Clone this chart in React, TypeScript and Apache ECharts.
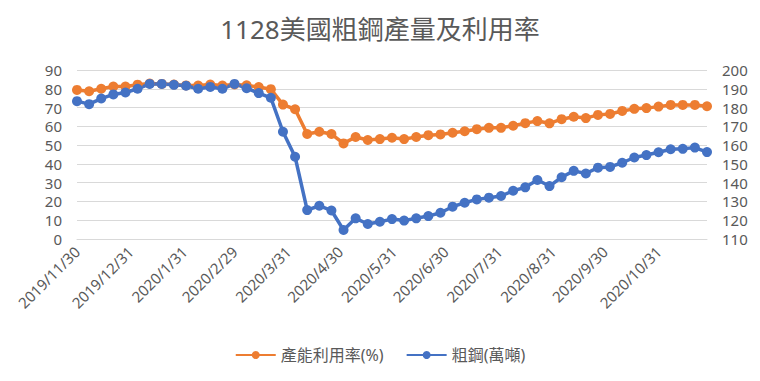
import React, { useEffect, useRef } from "react";
import * as echarts from "echarts";

const TITLE = "1128美國粗鋼產量及利用率";
const SERIES_NAMES = ["產能利用率(%)", "粗鋼(萬噸)"];

const weeks = [
  "2019/11/30", "2019/12/7", "2019/12/14", "2019/12/21", "2019/12/28",
  "2020/1/4", "2020/1/11", "2020/1/18", "2020/1/25",
  "2020/2/1", "2020/2/8", "2020/2/15", "2020/2/22", "2020/2/29",
  "2020/3/7", "2020/3/14", "2020/3/21", "2020/3/28",
  "2020/4/4", "2020/4/11", "2020/4/18", "2020/4/25",
  "2020/5/2", "2020/5/9", "2020/5/16", "2020/5/23", "2020/5/30",
  "2020/6/6", "2020/6/13", "2020/6/20", "2020/6/27",
  "2020/7/4", "2020/7/11", "2020/7/18", "2020/7/25",
  "2020/8/1", "2020/8/8", "2020/8/15", "2020/8/22", "2020/8/29",
  "2020/9/5", "2020/9/12", "2020/9/19", "2020/9/26",
  "2020/10/3", "2020/10/10", "2020/10/17", "2020/10/24", "2020/10/31",
  "2020/11/7", "2020/11/14", "2020/11/21", "2020/11/28",
];

const utilization = [
  79.4, 78.7, 80.0, 81.2, 81.2, 82.2, 82.8, 82.6, 82.3, 81.8,
  81.7, 82.3, 81.7, 82.3, 81.9, 80.9, 79.8, 71.6, 69.1, 55.9,
  57.1, 55.9, 50.9, 54.3, 52.7, 53.2, 53.9, 53.2, 54.3, 55.3,
  55.7, 56.6, 57.4, 58.5, 59.2, 59.2, 60.3, 61.7, 62.8, 61.6,
  63.8, 65.1, 64.4, 66.1, 66.6, 68.2, 69.3, 69.7, 70.5, 71.4,
  71.4, 71.4, 70.7,
];

const crudeSteel = [
  183.4, 181.8, 184.8, 187.0, 188.0, 190.0, 192.6, 192.6, 192.1, 191.6,
  190.0, 191.0, 190.0, 192.6, 190.3, 187.7, 185.2, 167.1, 153.8, 125.4,
  127.7, 125.2, 114.8, 121.0, 118.0, 119.2, 120.6, 119.8, 121.0, 122.2,
  124.0, 127.2, 129.3, 131.1, 132.0, 132.9, 135.7, 137.5, 141.4, 138.2,
  142.9, 146.3, 144.9, 148.0, 148.4, 150.6, 153.4, 154.7, 156.2, 157.8,
  158.0, 158.7, 156.3,
];

const monthTicks = [
  "2019/11/30", "2019/12/31", "2020/1/31", "2020/2/29", "2020/3/31", "2020/4/30",
  "2020/5/31", "2020/6/30", "2020/7/31", "2020/8/31", "2020/9/30", "2020/10/31",
];

const DAY = 86400000;
const EPOCH = Date.UTC(2019, 10, 30);
// x position = days since first week
const toDay = (s: string) => {
  const [y, m, d] = s.split("/").map(Number);
  return Math.round((Date.UTC(y, m - 1, d) - EPOCH) / DAY);
};
const fmt = (v: number) => {
  const d = new Date(EPOCH + Math.round(v) * DAY);
  return `${d.getUTCFullYear()}/${d.getUTCMonth() + 1}/${d.getUTCDate()}`;
};

const FONT = "'Noto Sans', 'Noto Sans CJK TC', sans-serif";
const GRAY = "#595959";

export default function App() {
  const ref = useRef<HTMLDivElement>(null);
  useEffect(() => {
    if (!ref.current) return;
    const chart = echarts.init(ref.current, null, { renderer: "svg" });
    chart.setOption({
      animation: false,
      backgroundColor: "#ffffff",
      textStyle: { fontFamily: FONT },
      title: {
        text: TITLE,
        left: "center",
        top: 11,
        textStyle: { fontFamily: FONT, fontSize: 26, fontWeight: "normal", color: GRAY },
      },
      legend: {
        left: "center",
        top: 342,
        itemWidth: 40,
        itemHeight: 10,
        itemGap: 22,
        textStyle: { fontFamily: FONT, fontSize: 16, color: GRAY },
        data: SERIES_NAMES,
      },
      grid: { left: 77, right: 53, top: 70, bottom: 142, containLabel: false },
      xAxis: {
        type: "value",
        min: toDay(weeks[0]),
        max: toDay(weeks[weeks.length - 1]),
        axisLine: { show: true, onZero: false, lineStyle: { color: "#D9D9D9", width: 1 } },
        axisTick: { show: false },
        splitLine: { show: false },
        axisLabel: {
          customValues: monthTicks.map(toDay),
          formatter: (v: number) => fmt(v),
          rotate: 45,
          margin: 10,
          fontSize: 15,
          color: GRAY,
          fontFamily: FONT,
          hideOverlap: false,
        },
      },
      yAxis: [
        {
          type: "value",
          min: 0,
          max: 90,
          interval: 10,
          axisLine: { show: false },
          axisTick: { show: false },
          splitLine: { lineStyle: { color: "#D9D9D9", width: 1 } },
          axisLabel: { fontSize: 15, lineHeight: 16, color: GRAY, margin: 15, fontFamily: FONT },
        },
        {
          type: "value",
          min: 110,
          max: 200,
          interval: 10,
          axisLine: { show: false },
          axisTick: { show: false },
          splitLine: { show: false },
          axisLabel: { fontSize: 15, lineHeight: 16, color: GRAY, margin: 15, fontFamily: FONT },
        },
      ],
      series: [
        {
          name: SERIES_NAMES[0],
          type: "line",
          yAxisIndex: 0,
          data: weeks.map((w, i) => [toDay(w), utilization[i]]),
          symbol: "circle",
          symbolSize: 10,
          itemStyle: { color: "#ED7D31" },
          lineStyle: { color: "#ED7D31", width: 3.5 },
        },
        {
          name: SERIES_NAMES[1],
          type: "line",
          yAxisIndex: 1,
          data: weeks.map((w, i) => [toDay(w), crudeSteel[i]]),
          symbol: "circle",
          symbolSize: 10,
          itemStyle: { color: "#4472C4" },
          lineStyle: { color: "#4472C4", width: 3.5 },
        },
      ],
    });
    return () => chart.dispose();
  }, []);
  return (
    <div
      ref={ref}
      style={{ position: "fixed", left: 0, top: 0, width: 760, height: 381, background: "#fff" }}
    />
  );
}
